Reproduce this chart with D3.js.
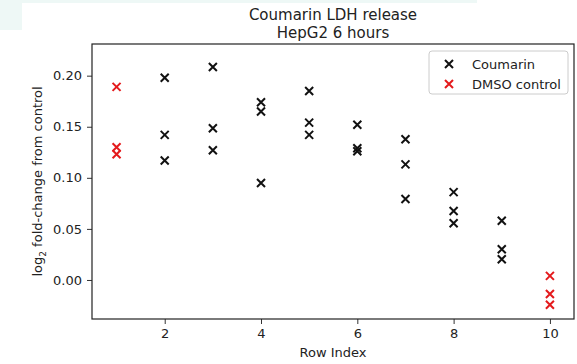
<!DOCTYPE html>
<html>
<head>
<meta charset="utf-8">
<script src="https://cdn.jsdelivr.net/npm/d3@7"></script>
<style>
  body { margin: 0; background: #fff; }
  text { font-family: "DejaVu Sans", sans-serif; fill: #222; }
</style>
</head>
<body>
<svg id="chart"></svg>
<script>
// Data (row index -> log2 fold-change)
const coumarinRows = [2, 2, 2, 3, 3, 3, 4, 4, 4, 5, 5, 5, 6, 6, 6, 7, 7, 7, 8, 8, 8, 9, 9, 9];
const coumarinVals = [0.198, 0.142, 0.117, 0.2085, 0.1485, 0.127, 0.174, 0.165, 0.095,
                      0.185, 0.154, 0.142, 0.152, 0.129, 0.126, 0.1377, 0.1132, 0.0793,
                      0.086, 0.0675, 0.0555, 0.058, 0.030, 0.0203];
const dmsoRows = [1, 1, 1, 10, 10, 10];
const dmsoVals = [0.189, 0.130, 0.123, 0.004, -0.0137, -0.0242];
const xTicks = [2, 4, 6, 8, 10];
const yTicks = [0.00, 0.05, 0.10, 0.15, 0.20];
const seriesNames = ["Coumarin", "DMSO control"];
const seriesColors = ["#111", "#e41a1c"];

const width = 577, height = 364;
const mLeft = 92, mRight = 574, mTop = 44, mBottom = 319;

const svg = d3.select("#chart")
  .attr("width", width)
  .attr("height", height);

// faint background tint seen in the top-left corner of the reference
svg.append("rect").attr("x", 22).attr("y", 0).attr("width", 455).attr("height", 3).attr("fill", "#eef8f6");
svg.append("rect").attr("x", 0).attr("y", 0).attr("width", 22).attr("height", 30).attr("fill", "#eef8f6");

const x = d3.scaleLinear().domain([0.49, 10.5]).range([mLeft, mRight]);
const y = d3.scaleLinear().domain([-0.0382, 0.231]).range([mBottom, mTop]);

// Axes
svg.append("g")
  .attr("transform", `translate(0,${mBottom})`)
  .call(d3.axisBottom(x).tickValues(xTicks).tickSize(5).tickPadding(5).tickFormat(d3.format("d")))
  .call(g => g.select(".domain").remove())
  .selectAll("text").style("font-size", "13px");

svg.append("g")
  .attr("transform", `translate(${mLeft},0)`)
  .call(d3.axisLeft(y).tickValues(yTicks).tickSize(5).tickPadding(5).tickFormat(d3.format(".2f")))
  .call(g => g.select(".domain").remove())
  .selectAll("text").style("font-size", "13px");

svg.selectAll(".tick line").attr("stroke", "#333");
svg.selectAll(".tick text").style("fill", "#222");

// Frame
svg.append("rect")
  .attr("x", mLeft).attr("y", mTop)
  .attr("width", mRight - mLeft).attr("height", mBottom - mTop)
  .attr("fill", "none").attr("stroke", "#222").attr("stroke-width", 1.2);

// Cross marker path
const s = 4;
const cross = `M${-s},${-s}L${s},${s}M${-s},${s}L${s},${-s}`;

function drawSeries(rows, vals, color) {
  svg.append("g").selectAll("path")
    .data(rows.map((r, i) => [r, vals[i]]))
    .enter().append("path")
    .attr("transform", d => `translate(${x(d[0])},${y(d[1])})`)
    .attr("d", cross)
    .attr("stroke", color)
    .attr("stroke-width", 2)
    .attr("fill", "none");
}
drawSeries(coumarinRows, coumarinVals, seriesColors[0]);
drawSeries(dmsoRows, dmsoVals, seriesColors[1]);

// Title
svg.append("text").attr("x", (mLeft + mRight) / 2).attr("y", 20)
  .attr("text-anchor", "middle").style("font-size", "15px").text("Coumarin LDH release");
svg.append("text").attr("x", (mLeft + mRight) / 2).attr("y", 37.5)
  .attr("text-anchor", "middle").style("font-size", "15px").text("HepG2 6 hours");

// Axis labels
svg.append("text").attr("x", (mLeft + mRight) / 2).attr("y", 357)
  .attr("text-anchor", "middle").style("font-size", "13px").text("Row Index");

const yl = svg.append("text")
  .attr("transform", `translate(42,${(mTop + mBottom) / 2}) rotate(-90)`)
  .attr("text-anchor", "middle").style("font-size", "13px");
yl.append("tspan").text("log");
yl.append("tspan").attr("dy", 4).style("font-size", "9px").text("2");
yl.append("tspan").attr("dy", -4).text(" fold-change from control");

// Legend
const lg = svg.append("g").attr("transform", "translate(429,51)");
lg.append("rect").attr("width", 139).attr("height", 43).attr("rx", 3)
  .attr("fill", "#fff").attr("stroke", "#ccc");
seriesNames.forEach((name, i) => {
  lg.append("path")
    .attr("transform", `translate(20,${13 + i * 20})`)
    .attr("d", cross).attr("stroke", seriesColors[i]).attr("stroke-width", 2).attr("fill", "none");
  lg.append("text").attr("x", 43).attr("y", 18 + i * 20)
    .style("font-size", "13px").text(name);
});
</script>
</body>
</html>
